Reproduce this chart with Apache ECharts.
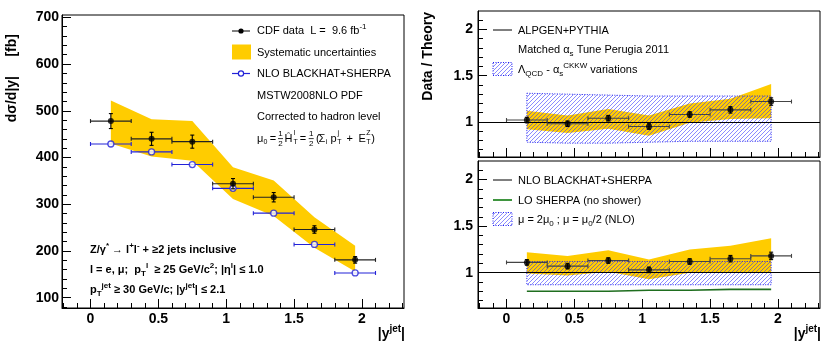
<!DOCTYPE html>
<html>
<head>
<meta charset="utf-8">
<script src="https://cdn.jsdelivr.net/npm/echarts@6/dist/echarts.min.js"></script>
<style>
html,body{margin:0;padding:0;background:#fff;}
#main{width:830px;height:349px;}
</style>
</head>
<body>
<div id="main"></div>
<script>
// bins in |y^jet|
var binEdges = [0, 0.3, 0.6, 0.9, 1.2, 1.5, 1.8, 2.1];
var binCenters = [0.15, 0.45, 0.75, 1.05, 1.35, 1.65, 1.95];

// left: d(sigma)/d|y| [fb]
var cdfData = [478, 440, 434, 344, 315, 246, 181];
var cdfStat = [16, 14, 14, 11, 10, 8, 7];
var systLow = [430, 402, 393, 311, 275, 207, 156];
var systHigh = [522, 482, 478, 379, 351, 272, 211];
var nloBlackhat = [429, 412, 385, 334, 281, 214, 153];

// top right: data / ALPGEN+PYTHIA
var ratioAlp = [1.02, 0.98, 1.04, 0.95, 1.08, 1.13, 1.22];
var ratioAlpErr = [0.03, 0.03, 0.03, 0.03, 0.03, 0.035, 0.04];
var systAlpLow = [0.92, 0.88, 0.925, 0.85, 0.99, 1.03, 1.04];
var systAlpHigh = [1.12, 1.07, 1.14, 1.07, 1.2, 1.25, 1.41];
var varAlpLow = [0.78, 0.77, 0.77, 0.78, 0.79, 0.79, 0.79];
var varAlpHigh = [1.31, 1.30, 1.29, 1.28, 1.28, 1.28, 1.28];

// bottom right: data / NLO BLACKHAT+SHERPA
var ratioNlo = [1.11, 1.07, 1.13, 1.03, 1.12, 1.15, 1.18];
var ratioNloErr = [0.03, 0.03, 0.03, 0.03, 0.03, 0.035, 0.04];
var systNloLow = [0.99, 0.97, 1.01, 0.93, 1.0, 1.0, 1.0];
var systNloHigh = [1.22, 1.18, 1.24, 1.14, 1.25, 1.29, 1.37];
var scaleLow = [0.87, 0.87, 0.87, 0.87, 0.87, 0.87, 0.87];
var scaleHigh = [1.12, 1.12, 1.12, 1.12, 1.12, 1.12, 1.12];
var loSherpa = [0.80, 0.80, 0.80, 0.81, 0.81, 0.82, 0.82];

// axis ticks
var xMajor = [0, 0.5, 1, 1.5, 2];
var yMajorLeft = [100, 200, 300, 400, 500, 600, 700];
var yMajorRatio = [1, 1.5, 2];

var FONT = '"Liberation Sans", Arial, Helvetica, sans-serif';
var YELLOW = '#ffcc00';
var BLUE = '#2222d8';

function range(a, b, step) {
    var out = [];
    for (var v = a; v <= b + 1e-9; v += step) out.push(Math.round(v * 1000) / 1000);
    return out;
}
var xMinor = range(-0.2, 2.3, 0.1);
var yMinorLeft = range(80, 700, 20);
var yMinorRatio = range(0.7, 2.1, 0.1);

// hatch pattern "///"
function makeHatch() {
    var s = 4;
    var c = document.createElement('canvas');
    c.width = s; c.height = s;
    var ctx = c.getContext('2d');
    ctx.strokeStyle = 'rgba(45,45,255,0.62)';
    ctx.lineWidth = 0.9;
    ctx.beginPath();
    ctx.moveTo(0, s); ctx.lineTo(s, 0);
    ctx.moveTo(-1, 1); ctx.lineTo(1, -1);
    ctx.moveTo(s - 1, s + 1); ctx.lineTo(s + 1, s - 1);
    ctx.stroke();
    return c;
}
var hatch = {image: makeHatch(), repeat: 'repeat'};
var hatchStyle = {fill: hatch, stroke: '#2020f0', lineWidth: 1, lineDash: [1, 1.5]};

var grids = [
    {left: 62, top: 15, width: 342, height: 293},
    {left: 478, top: 11, width: 342, height: 146},
    {left: 478, top: 161, width: 342, height: 147}
].map(function (g) {
    g.show = true; g.borderColor = '#000'; g.borderWidth = 1; g.backgroundColor = 'rgba(0,0,0,0)';
    return g;
});

var xAxes = [], yAxes = [];
function majorAxis(gi, min, max, ticks, showLabel, pos, margin) {
    return {
        type: 'value', gridIndex: gi, min: min, max: max, position: pos,
        axisLine: {show: true, onZero: false, lineStyle: {color: '#000', width: 1}},
        axisTick: {show: true, inside: true, length: 9, customValues: ticks, lineStyle: {color: '#000', width: 1}},
        axisLabel: {show: showLabel, customValues: ticks, margin: margin, color: '#000',
            fontFamily: FONT, fontWeight: 'bold', fontSize: 14},
        splitLine: {show: false}
    };
}
function minorAxis(gi, min, max, ticks, pos) {
    return {
        type: 'value', gridIndex: gi, min: min, max: max, position: pos,
        axisLine: {show: false, onZero: false},
        axisTick: {show: true, inside: true, length: 5, customValues: ticks, lineStyle: {color: '#000', width: 1}},
        axisLabel: {show: false},
        splitLine: {show: false}
    };
}
function addAxes(gi, ymin, ymax, yMaj, yMin, showX, yMargin) {
    xAxes.push(majorAxis(gi, -0.21, 2.31, xMajor, showX, 'bottom', 4));
    xAxes.push(minorAxis(gi, -0.21, 2.31, xMinor, 'bottom'));
    yAxes.push(majorAxis(gi, ymin, ymax, yMaj, true, 'left', yMargin));
    yAxes.push(minorAxis(gi, ymin, ymax, yMin, 'left'));
}
addAxes(0, 78, 705, yMajorLeft, yMinorLeft, true, 3);
addAxes(1, 0.62, 2.2, yMajorRatio, yMinorRatio, false, 5);
addAxes(2, 0.62, 2.2, yMajorRatio, yMinorRatio, true, 5);

function bandSeries(ax, lo, hi, style, z) {
    return {
        type: 'custom', xAxisIndex: ax, yAxisIndex: ax, z: z, silent: true,
        data: binCenters.map(function (x, i) { return [x, lo[i], hi[i]]; }),
        renderItem: function (params, api) {
            if (params.dataIndex !== 0) return null;
            var top = [], bot = [];
            for (var i = 0; i < binCenters.length; i++) {
                top.push(api.coord([binCenters[i], hi[i]]));
                bot.unshift(api.coord([binCenters[i], lo[i]]));
            }
            return {type: 'polygon', shape: {points: top.concat(bot)}, style: style};
        }
    };
}

function errSeries(ax, vals, errs, hColor, z) {
    return {
        type: 'custom', xAxisIndex: ax, yAxisIndex: ax, z: z, silent: true,
        data: binCenters.map(function (x, i) {
            return [x, vals[i], errs ? errs[i] : 0, binEdges[i], binEdges[i + 1]];
        }),
        renderItem: function (params, api) {
            var x = api.value(0), y = api.value(1), e = api.value(2);
            var l = api.coord([api.value(3), y]), r = api.coord([api.value(4), y]);
            var st = {stroke: hColor, lineWidth: 1.1};
            var kids = [
                {type: 'line', shape: {x1: l[0], y1: l[1], x2: r[0], y2: r[1]}, style: st},
                {type: 'line', shape: {x1: l[0], y1: l[1] - 2, x2: l[0], y2: l[1] + 2}, style: st},
                {type: 'line', shape: {x1: r[0], y1: r[1] - 2, x2: r[0], y2: r[1] + 2}, style: st}
            ];
            if (e) {
                var t = api.coord([x, y + e]), b = api.coord([x, y - e]);
                var vs = {stroke: '#000', lineWidth: 1.1};
                kids.push({type: 'line', shape: {x1: t[0], y1: t[1], x2: b[0], y2: b[1]}, style: vs});
                kids.push({type: 'line', shape: {x1: t[0] - 2, y1: t[1], x2: t[0] + 2, y2: t[1]}, style: vs});
                kids.push({type: 'line', shape: {x1: b[0] - 2, y1: b[1], x2: b[0] + 2, y2: b[1]}, style: vs});
            }
            return {type: 'group', children: kids};
        }
    };
}

function points(vals) {
    return binCenters.map(function (x, i) { return [x, vals[i]]; });
}

var unityLine = {
    silent: true, symbol: 'none', animation: false,
    label: {show: false},
    lineStyle: {color: '#000', width: 1, type: 'solid'},
    data: [{yAxis: 1}]
};

var series = [
    // left panel
    bandSeries(0, systLow, systHigh, {fill: YELLOW}, 1),
    errSeries(0, nloBlackhat, null, BLUE, 3),
    {type: 'scatter', xAxisIndex: 0, yAxisIndex: 0, z: 4, symbol: 'circle', symbolSize: 6,
        itemStyle: {color: '#fff', borderColor: BLUE, borderWidth: 1.3}, data: points(nloBlackhat)},
    errSeries(0, cdfData, cdfStat, '#222', 5),
    {type: 'scatter', xAxisIndex: 0, yAxisIndex: 0, z: 6, symbolSize: 6,
        itemStyle: {color: '#000'}, data: points(cdfData)},

    // top right
    bandSeries(2, systAlpLow, systAlpHigh, {fill: YELLOW}, 1),
    bandSeries(2, varAlpLow, varAlpHigh, hatchStyle, 2),
    errSeries(2, ratioAlp, ratioAlpErr, '#444', 5),
    {type: 'scatter', xAxisIndex: 2, yAxisIndex: 2, z: 6, symbolSize: 6,
        itemStyle: {color: '#000'}, data: points(ratioAlp), markLine: unityLine},

    // bottom right
    bandSeries(4, systNloLow, systNloHigh, {fill: YELLOW}, 1),
    bandSeries(4, scaleLow, scaleHigh, hatchStyle, 2),
    {type: 'line', xAxisIndex: 4, yAxisIndex: 4, z: 3, showSymbol: false, silent: true,
        lineStyle: {color: '#1f6e1f', width: 1.6}, data: points(loSherpa)},
    errSeries(4, ratioNlo, ratioNloErr, '#444', 5),
    {type: 'scatter', xAxisIndex: 4, yAxisIndex: 4, z: 6, symbolSize: 6,
        itemStyle: {color: '#000'}, data: points(ratioNlo), markLine: unityLine}
];

function makeRich(size, weight) {
    var s = Math.round(size * 0.72);
    return {
        sub: {fontFamily: FONT, fontSize: s, fontWeight: weight, fill: '#000', padding: [s, 0, 0, 0]},
        sup: {fontFamily: FONT, fontSize: s, fontWeight: weight, fill: '#000', padding: [0, 0, s, 0]}
    };
}
function label(x, y, text, opt) {
    opt = opt || {};
    var size = opt.size || 11, weight = opt.bold ? 'bold' : 'normal';
    return {
        type: 'text', x: x, y: y, rotation: opt.rotation || 0, silent: true, z: 100,
        style: {text: text, fill: '#000', fontFamily: FONT, fontSize: size, fontWeight: weight,
            align: opt.align || 'left', verticalAlign: 'middle', rich: makeRich(size, weight)}
    };
}
function hline(x1, x2, y, color, w) {
    return {type: 'line', silent: true, z: 100, shape: {x1: x1, y1: y, x2: x2, y2: y},
        style: {stroke: color, lineWidth: w || 1}};
}

// mu_0 formula pieces: [x, y, text, size, align]
var formula = [
    [257, 138.5, 'μ', 11], [263.6, 142.5, '0', 7],
    [269.8, 138.5, '=', 11],
    [280.5, 133.5, '1', 8, 'center'], [280.5, 143.7, '2', 8, 'center'],
    [284.6, 138.5, 'Ĥ', 11], [293.8, 133, 'l', 7], [293.4, 142.5, 'T', 7],
    [299.7, 138.5, '=', 11],
    [311.2, 133.5, '1', 8, 'center'], [311.2, 143.7, '2', 8, 'center'],
    [316, 138.5, '(', 11], [318.6, 138.5, 'Σ', 11], [325.8, 142.5, 'i', 7],
    [330.6, 138.5, 'p', 11], [337.6, 133, 'j', 7], [337.2, 142.5, 'T', 7],
    [346.5, 138.5, '+', 11],
    [358.5, 138.5, 'E', 11], [366.2, 133, 'Z', 7], [366.2, 142.5, 'T', 7],
    [371.2, 138.5, ')', 11]
];

var graphics = [
    // axis titles
    label(12, 34, 'dσ/d|y|     [fb]', {bold: true, size: 14, align: 'right', rotation: Math.PI / 2}),
    label(428, 12, 'Data / Theory', {bold: true, size: 14, align: 'right', rotation: Math.PI / 2}),
    label(405, 334, '|y{sup|jet}|', {bold: true, size: 14, align: 'right'}),
    label(821, 334, '|y{sup|jet}|', {bold: true, size: 14, align: 'right'}),

    // left legend
    hline(232, 250, 31, '#000', 1),
    {type: 'circle', silent: true, z: 100, shape: {cx: 241, cy: 31, r: 2.6}, style: {fill: '#000'}},
    label(257, 31, 'CDF data  L =  9.6 fb{sup|-1}'),
    {type: 'rect', silent: true, z: 100, shape: {x: 232, y: 44.5, width: 19, height: 15}, style: {fill: YELLOW}},
    label(257, 52.5, 'Systematic uncertainties'),
    hline(232, 250, 73.5, BLUE, 1.2),
    {type: 'circle', silent: true, z: 101, shape: {cx: 241, cy: 73.5, r: 2.6}, style: {fill: '#fff', stroke: BLUE, lineWidth: 1.2}},
    label(257, 74, 'NLO BLACKHAT+SHERPA'),
    label(257, 95.5, 'MSTW2008NLO PDF'),
    label(257, 117, 'Corrected to hadron level'),
    hline(278, 283, 138.6, '#000', 0.8),
    hline(308.7, 313.7, 138.6, '#000', 0.8),

    // bottom-left info
    label(90, 249.5, 'Z/γ{sup|*} → l{sup|+}l{sup|-} + ≥2 jets inclusive', {bold: true}),
    label(90, 269.5, 'l = e, μ;  p{sub|T}{sup|l}  ≥ 25 GeV/c{sup|2}; |η{sup|l}| ≤ 1.0', {bold: true}),
    label(90, 289.5, 'p{sub|T}{sup|jet} ≥ 30 GeV/c; |y{sup|jet}| ≤ 2.1', {bold: true}),

    // top-right legend
    hline(493, 512, 30, '#000', 1),
    label(518, 30.5, 'ALPGEN+PYTHIA'),
    label(518, 50, 'Matched α{sub|s} Tune Perugia 2011'),
    {type: 'rect', silent: true, z: 100, shape: {x: 493, y: 62.5, width: 19, height: 13}, style: hatchStyle},
    label(518, 69.5, 'Λ{sub|QCD} - α{sub|s}{sup|CKKW} variations'),

    // bottom-right legend
    hline(493, 512, 180, '#000', 1),
    label(518, 180.5, 'NLO BLACKHAT+SHERPA'),
    hline(493, 512, 200, '#2a8a2a', 1.8),
    label(518, 200.5, 'LO SHERPA (no shower)'),
    {type: 'rect', silent: true, z: 100, shape: {x: 493, y: 212.5, width: 19, height: 13}, style: hatchStyle},
    label(518, 219.5, 'μ = 2μ{sub|0} ; μ = μ{sub|0}/2 (NLO)')
];
formula.forEach(function (f) {
    graphics.push(label(f[0], f[1], f[2], {size: f[3], align: f[4] || 'left'}));
});

var chart = echarts.init(document.getElementById('main'), null, {renderer: 'canvas'});
chart.setOption({
    animation: false,
    backgroundColor: '#fff',
    grid: grids,
    xAxis: xAxes,
    yAxis: yAxes,
    series: series,
    graphic: {elements: graphics}
});
</script>
</body>
</html>
